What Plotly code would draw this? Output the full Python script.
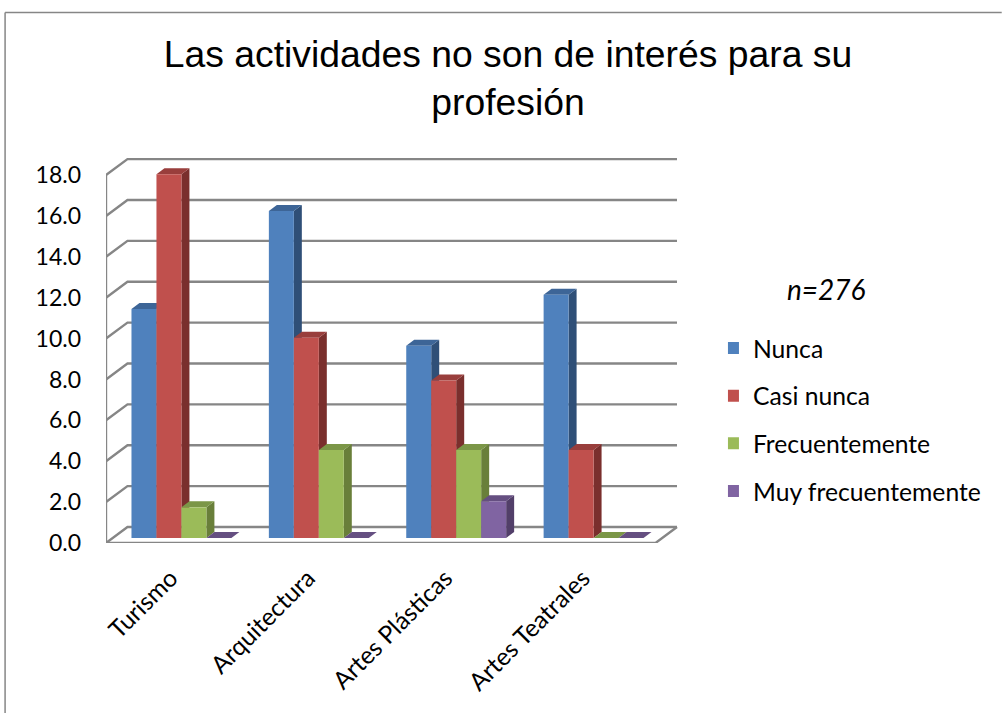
import plotly.graph_objects as go

categories = ["Turismo", "Arquitectura", "Artes Plásticas", "Artes Teatrales"]
series_names = ["Nunca", "Casi nunca", "Frecuentemente", "Muy frecuentemente"]
nunca = [11.2, 16.0, 9.4, 11.9]
casi_nunca = [17.8, 9.8, 7.7, 4.3]
frecuentemente = [1.5, 4.3, 4.3, 0.0]
muy_frecuentemente = [0.0, 0.0, 1.8, 0.0]
y_ticks = [0, 2, 4, 6, 8, 10, 12, 14, 16, 18]
title_text = "Las actividades no son de interés para su<br>profesión"
note_text = "<i>n=276</i>"

series = [nunca, casi_nunca, frecuentemente, muy_frecuentemente]
front_colors = ["#4F81BD", "#C0504D", "#9BBB59", "#8064A2"]
top_colors = ["#3D6597", "#993E3C", "#7B9647", "#654F81"]
side_colors = ["#2F4F77", "#7A2F2D", "#697F3A", "#523F69"]
GRID = "#868686"
FONT = "Lato"

# pixel geometry of the plot frame
W, H = 1002, 713
L, R, T, B = 105.5, 322, 150, 170
PW, PH = W - L - R, H - T - B
PX_X = 137.5   # pixels per category
PX_Y = 20.44   # pixels per value unit
x_max = PW / PX_X
y_max = PH / PX_Y
n_cat = len(categories)

# depth of the walls and of the bars, in data units
wall_dx, wall_dy = 21.5 / PX_X, 16 / PX_Y
bar_dx, bar_dy = 8 / PX_X, 6 / PX_Y
shift_x, shift_y = 6.75 / PX_X, 5 / PX_Y
bar_gap = 37.5 / 137.5
bar_w = (1 - bar_gap) / len(series)

centers = [i + 0.5 for i in range(n_cat)]

fig = go.Figure()

# walls and floor
gx, gy = [], []
for v in y_ticks:
    gx += [0, wall_dx, n_cat + wall_dx, None]
    gy += [v, v + wall_dy, v + wall_dy, None]
gx += [0, 0, None, 0, n_cat, n_cat + wall_dx]
gy += [y_ticks[0], y_ticks[-1], None, 0, 0, wall_dy]
fig.add_trace(go.Scatter(x=gx, y=gy, mode="lines", line=dict(color=GRID, width=2.4),
                         showlegend=False, hoverinfo="skip", cliponaxis=False))

# side and top faces of the bars, derived from the values
for s, vals in enumerate(series):
    sx, sy, tx, ty = [], [], [], []
    for c, v in zip(centers, vals):
        left = c - (1 - bar_gap) / 2 + s * bar_w
        right = left + bar_w
        sx += [right, right + bar_dx, right + bar_dx, right, right, None]
        sy += [0, bar_dy, v + bar_dy, v, 0, None]
        tx += [left, left + bar_dx, right + bar_dx, right, left, None]
        ty += [v, v + bar_dy, v + bar_dy, v, v, None]
    fig.add_trace(go.Scatter(x=sx, y=sy, mode="lines", fill="toself", fillcolor=side_colors[s],
                             line=dict(width=0), xaxis="x2", yaxis="y2", showlegend=False,
                             hoverinfo="skip", cliponaxis=False))
    fig.add_trace(go.Scatter(x=tx, y=ty, mode="lines", fill="toself", fillcolor=top_colors[s],
                             line=dict(width=0), xaxis="x2", yaxis="y2", showlegend=False,
                             hoverinfo="skip", cliponaxis=False))

# front faces
for s, vals in enumerate(series):
    fig.add_trace(go.Bar(x=centers, y=vals, name=series_names[s], legendgroup=series_names[s],
                         marker=dict(color=front_colors[s], line=dict(width=0)),
                         xaxis="x3", yaxis="y3", cliponaxis=False))


def px(x):
    return (x - L) / PW


def py(y):
    return 1 - (y - T) / PH


shifted_x = [-shift_x, x_max - shift_x]
shifted_y = [-shift_y, y_max - shift_y]
frame = dict(color="#868686", width=1.5)

fig.update_layout(
    width=W, height=H, autosize=False,
    margin=dict(l=L, r=R, t=T, b=B, pad=0),
    paper_bgcolor="white", plot_bgcolor="rgba(0,0,0,0)",
    barmode="group", bargap=bar_gap, bargroupgap=0,
    font=dict(family=FONT, color="#000000"),
    title=dict(text=title_text, x=508 / W, xanchor="center", y=1 - 67 / H, yanchor="top",
               font=dict(family="Liberation Sans", size=37.3, color="#000000")),
    xaxis=dict(range=[0, x_max], tickmode="array", tickvals=centers, ticktext=categories,
               tickangle=-45, showgrid=False, zeroline=False, showline=False, ticks="",
               ticklabelstandoff=15, ticklabelshift=-4,
               tickfont=dict(family=FONT, size=24.5, color="#000000")),
    yaxis=dict(range=[0, y_max], tickmode="array", tickvals=y_ticks,
               ticktext=[f"{v:.1f}" for v in y_ticks], showgrid=False, zeroline=False,
               showline=False, ticks="", ticklabelstandoff=24,
               tickfont=dict(family=FONT, size=23, color="#000000")),
    xaxis2=dict(range=shifted_x, overlaying="x", visible=False),
    yaxis2=dict(range=shifted_y, overlaying="y", visible=False),
    xaxis3=dict(range=shifted_x, overlaying="x", visible=False),
    yaxis3=dict(range=shifted_y, overlaying="y", visible=False),
    legend=dict(x=px(728), y=py(325.5), xanchor="left", yanchor="top", tracegroupgap=12.5,
                indentation=-15,
                bgcolor="rgba(0,0,0,0)", font=dict(family=FONT, size=24.7, color="#000000")),
    annotations=[dict(text=note_text, xref="paper", yref="paper", x=px(827), y=py(289),
                      xanchor="center", yanchor="middle", showarrow=False,
                      font=dict(family=FONT, size=28, color="#000000"))],
    shapes=[
        dict(type="line", xref="paper", yref="paper", x0=px(4.5), y0=py(12.5), x1=px(1002), y1=py(12.5), line=frame),
        dict(type="line", xref="paper", yref="paper", x0=px(4.5), y0=py(12.5), x1=px(4.5), y1=py(713), line=frame),
    ],
)

fig.write_html("out.html", post_script="document.body.style.margin='0';",
               config={"displayModeBar": False})
